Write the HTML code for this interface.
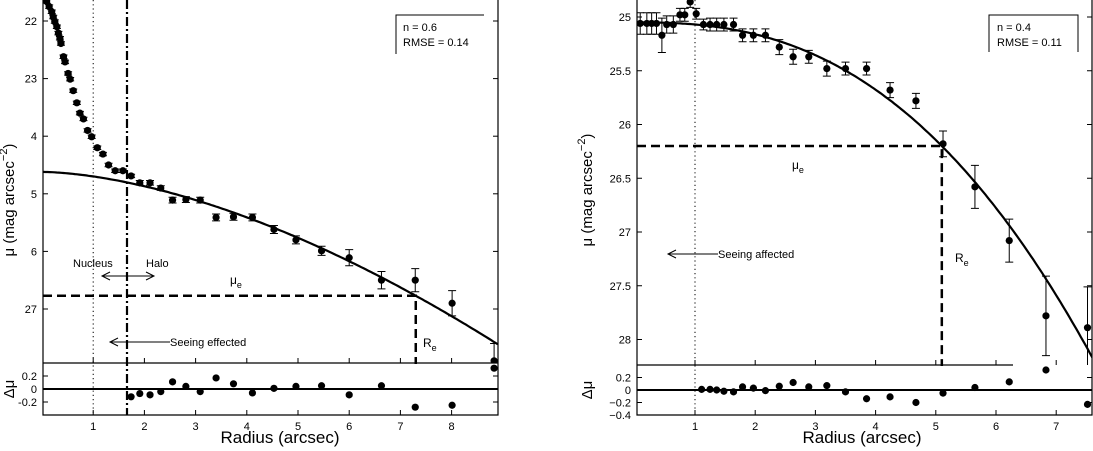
<!DOCTYPE html>
<html><head><meta charset="utf-8"><style>
html,body{margin:0;padding:0;background:#fff;}
svg{display:block;font-family:"Liberation Sans",sans-serif;}
</style></head><body>
<svg id="fig" width="1093" height="451" viewBox="0 0 1093 451"></svg>
<script>
// ---------- Left panel data ----------
const L_r=[0.09,0.14,0.19,0.22,0.25,0.29,0.32,0.35,0.37,0.42,0.45,0.51,0.55,0.61,0.68,0.74,0.81,0.89,0.97,1.08,1.19,1.30,1.43,1.58,1.74,1.91,2.11,2.32,2.55,2.81,3.09,3.40,3.74,4.11,4.53,4.96,5.46,6.00,6.63,7.29,8.01,8.83];
const L_mu=[21.66,21.75,21.84,21.93,22.01,22.10,22.21,22.30,22.39,22.62,22.71,22.91,23.01,23.21,23.42,23.60,23.70,23.90,24.01,24.20,24.31,24.50,24.60,24.60,24.69,24.81,24.81,24.90,25.11,25.10,25.11,25.41,25.40,25.41,25.62,25.80,25.99,26.11,26.50,26.50,26.90,27.90];
const L_err=[0.03,0.03,0.03,0.03,0.03,0.03,0.03,0.03,0.03,0.03,0.03,0.03,0.03,0.03,0.03,0.03,0.03,0.03,0.03,0.03,0.03,0.03,0.03,0.03,0.03,0.04,0.04,0.04,0.05,0.05,0.05,0.06,0.06,0.06,0.07,0.07,0.08,0.14,0.15,0.20,0.22,0.30];
const L_resR=[1.74,1.91,2.11,2.32,2.55,2.81,3.09,3.40,3.74,4.11,4.53,4.96,5.46,6.00,6.63,7.29,8.01,8.83];
const L_res=[-0.12,-0.07,-0.09,-0.04,0.11,0.04,-0.04,0.17,0.08,-0.06,0.01,0.04,0.05,-0.09,0.05,-0.28,-0.25,0.32];
const L_fit=[0.6,7.3,26.77,2.15]; // n, Re, mu_e, b
const L_xticks=[1,2,3,4,5,6,7,8];
const L_yticks=[22,23,24,25,26,27];
const L_ylabels=["22","23","4","5","6","27"];
const L_rticks=[0.2,0,-0.2];
const L_rlabels=["0.2","0","-0.2"];
// ---------- Right panel data ----------
const R_r=[0.45,0.09,0.20,0.28,0.36,0.53,0.64,0.75,0.83,0.92,1.02,1.14,1.25,1.36,1.48,1.64,1.79,1.97,2.17,2.40,2.63,2.89,3.19,3.50,3.85,4.24,4.67,5.12,5.65,6.22,6.83,7.52];
const R_mu=[25.17,25.06,25.06,25.06,25.06,25.07,25.07,24.98,24.98,24.86,24.97,25.07,25.07,25.07,25.07,25.07,25.17,25.17,25.17,25.28,25.37,25.37,25.48,25.48,25.48,25.68,25.78,26.18,26.58,27.08,27.78,27.89];
const R_err=[0.16,0.1,0.1,0.1,0.1,0.08,0.08,0.06,0.06,0.05,0.05,0.05,0.06,0.06,0.06,0.06,0.06,0.06,0.06,0.07,0.07,0.06,0.07,0.06,0.06,0.07,0.07,0.12,0.2,0.2,0.37,0.38];
const R_resR=[1.11,1.25,1.36,1.48,1.64,1.79,1.97,2.17,2.40,2.63,2.89,3.19,3.50,3.85,4.24,4.67,5.12,5.65,6.22,6.83,7.52];
const R_res=[0.01,0.01,0,-0.02,-0.03,0.05,0.03,-0.01,0.06,0.12,0.05,0.07,-0.03,-0.14,-0.11,-0.2,-0.05,0.04,0.13,0.32,-0.23];
const R_fit=[0.4,5.1,26.2,1.15];
const R_xticks=[1,2,3,4,5,6,7];
const R_yticks=[25,25.5,26,26.5,27,27.5,28];
const R_ylabels=["25","25.5","26","26.5","27","27.5","28"];
const R_rticks=[0.2,0,-0.2,-0.4];
const R_rlabels=["0.2","0","\u22120.2","\u22120.4"];

const NS="http://www.w3.org/2000/svg";
const svg=document.getElementById('fig');
function mk(tag,attrs,parent){const e=document.createElementNS(NS,tag);for(const k in attrs)e.setAttribute(k,attrs[k]);(parent||svg).appendChild(e);return e;}
function lin(d0,d1,r0,r1){return v=>r0+(v-d0)*(r1-r0)/(d1-d0);}

function panel(P){
  const g=mk('g',{});
  
  
  const X=lin(0,1,P.x0,P.x0+P.xs), Y=lin(P.m0,P.m0+1,P.y0,P.y0+P.ys), YR=lin(0,1,P.r0,P.r0-P.rs);
  const cid='clip'+P.name;
  const cp=mk('clipPath',{id:cid},g); mk('rect',{x:P.L,y:0,width:P.R-P.L,height:P.B},cp);
  // frame
  const fr=mk('path',{d:`M${P.L},0V${P.B2}H${P.R}V0M${P.L},${P.B}H${P.Bend}`,fill:'none',stroke:'#000','stroke-width':1.2},g);
   
  // x ticks
  P.xticks.forEach(t=>{const x=X(t);
    mk('line',{x1:x,x2:x,y1:P.B2,y2:P.B2-5,stroke:'#000'},g);
    mk('line',{x1:x,x2:x,y1:P.B,y2:P.B-5,stroke:'#000'},g);
    const tx=mk('text',{x:x,y:P.B2+15,'font-size':11,'text-anchor':'middle'},g);tx.textContent=String(t);
     });
  P.yticks.forEach((t,i)=>{const y=Y(t);
    mk('line',{x1:P.L,x2:P.L+5,y1:y,y2:y,stroke:'#000'},g);
    mk('line',{x1:P.R,x2:P.R-5,y1:y,y2:y,stroke:'#000'},g);
    const tx=mk('text',{x:P.L-6,y:y+4,'font-size':11,'text-anchor':'end'},g);tx.textContent=P.ylabels[i];
     });
  P.rticks.forEach((t,i)=>{const y=YR(t);
    mk('line',{x1:P.L,x2:P.L+5,y1:y,y2:y,stroke:'#000'},g);
    mk('line',{x1:P.R,x2:P.R-5,y1:y,y2:y,stroke:'#000'},g);
    const tx=mk('text',{x:P.L-6,y:y+4,'font-size':11,'text-anchor':'end'},g);tx.textContent=P.rlabels[i];
     });
  // reference lines
  const dot=mk('line',{x1:X(1),x2:X(1),y1:0,y2:P.B2,stroke:'#000','stroke-dasharray':'1.2,3'},g);
   
  const [n,Re,mue,b]=P.fit;
  const ye=Y(mue), xe=X(Re);
  const dh=mk('path',{d:`M${P.L},${ye}H${xe}V${P.B+1}`,fill:'none',stroke:'#000','stroke-width':2.5,'stroke-dasharray':'9,5'},g);
   
  // fit
  let d='';const lim=P.xmax;
  for(let i=0;i<=200;i++){const r=P.xmin+(lim-P.xmin)*i/200;const m=mue+b*(Math.pow(r/Re,1/n)-1);d+=(i?'L':'M')+X(r).toFixed(1)+','+Y(m).toFixed(1);}
  const fit=mk('path',{d:d,fill:'none',stroke:'#000','stroke-width':2.2,'clip-path':`url(#${cid})`},g);
   
  // data
  const dg=mk('g',{'clip-path':`url(#${cid})`},g);
   
  P.r.forEach((r,i)=>{const x=X(r),y=Y(P.mu[i]),e1=Y(P.mu[i]-P.err[i]),e2=Y(P.mu[i]+P.err[i]);
    mk('path',{d:`M${x},${e1}V${e2}M${x-4},${e1}H${x+4}M${x-4},${e2}H${x+4}`,stroke:'#000','stroke-width':1,fill:'none'},dg);
    const c=mk('circle',{cx:x,cy:y,r:3.6,fill:'#000'},dg);
     });
  // residuals
  const z=mk('line',{x1:P.L,x2:P.R,y1:YR(0),y2:YR(0),stroke:'#000','stroke-width':2},g);
   
  P.resR.forEach((r,i)=>{const c=mk('circle',{cx:X(r),cy:YR(P.res[i]),r:3.6,fill:'#000'},g);
     });
  // legend
  const lg=mk('g',{},g);  
  mk('path',{d:P.legPath,fill:'none',stroke:'#000'},lg);
  let t=mk('text',{x:P.legX,y:31,'font-size':11},lg);t.textContent=P.leg1;
  t=mk('text',{x:P.legX,y:46,'font-size':11},lg);t.textContent=P.leg2;
  // axis titles
  t=mk('text',{x:P.ylx,y:P.yly,'font-size':15,'text-anchor':'middle',transform:`rotate(-90 ${P.ylx} ${P.yly})`},g);
  t.innerHTML='μ (mag arcsec<tspan dy="-7" font-size="11">−2</tspan><tspan dy="7">)</tspan>';
   
  t=mk('text',{x:P.ylx,y:YR(0),'font-size':15,'text-anchor':'middle',transform:`rotate(-90 ${P.ylx} ${YR(0)})`},g);t.textContent='Δμ';
   
  t=mk('text',{x:P.xlx,y:443,'font-size':17,'text-anchor':'middle'},g);t.textContent='Radius (arcsec)';
   
  // mu_e and Re labels
  t=mk('text',{x:P.mux,y:P.muy,'font-size':12},g);t.innerHTML='μ<tspan dy="4" font-size="9">e</tspan>';
   
  t=mk('text',{x:P.rex,y:P.rey,'font-size':12},g);t.innerHTML='R<tspan dy="4" font-size="9">e</tspan>';
   
  // seeing text + arrow
  mk('path',{d:`M${P.sx0},${P.sy}H${P.sx1}M${P.sx0+8},${P.sy-4}L${P.sx0},${P.sy}L${P.sx0+8},${P.sy+4}`,fill:'none',stroke:'#000'},g);
  t=mk('text',{x:P.sx1,y:P.sy+4,'font-size':11},g);t.textContent=P.stext;
   
  return {X,Y,YR,g};
}

const Lp=panel({name:'left-panel',L:43,R:498,B:363,B2:415,Bend:498,x0:42,xs:51.2,m0:22,y0:21,ys:57.6,r0:389,rs:65,xmin:0.02,xmax:8.9,
 r:L_r,mu:L_mu,err:L_err,resR:L_resR,res:L_res,fit:L_fit,xticks:L_xticks,yticks:L_yticks,ylabels:L_ylabels,rticks:L_rticks,rlabels:L_rlabels,
 legPath:'M396,54V15H484',legX:403,leg1:'n = 0.6',leg2:'RMSE = 0.14',ylx:14,yly:200,xlx:280,mux:230,muy:284,rex:423,rey:347,
 sx0:110,sx1:170,sy:342,stext:'Seeing effected'});
// dash-dot line and nucleus/halo
const dd=mk('line',{x1:127,x2:127,y1:0,y2:415,stroke:'#000','stroke-width':2.2,'stroke-dasharray':'9,3,2,3'},Lp.g);
 
mk('path',{d:'M102,276H154M110,272L102,276L110,280M146,272L154,276L146,280',fill:'none',stroke:'#000'},Lp.g);
let tt=mk('text',{x:73,y:267,'font-size':11},Lp.g);tt.textContent='Nucleus';
 
tt=mk('text',{x:146,y:267,'font-size':11},Lp.g);tt.textContent='Halo';
 

panel({name:'right-panel',L:637,R:1092,B:365,B2:415,Bend:1013,x0:634.8,xs:60.2,m0:25,y0:17,ys:107.5,r0:390,rs:62.5,xmin:0.04,xmax:7.6,
 r:R_r,mu:R_mu,err:R_err,resR:R_resR,res:R_res,fit:R_fit,xticks:R_xticks,yticks:R_yticks,ylabels:R_ylabels,rticks:R_rticks,rlabels:R_rlabels,
 legPath:'M989,52V15H1078V52',legX:997,leg1:'n = 0.4',leg2:'RMSE = 0.11',ylx:592,yly:190,xlx:862,mux:792,muy:169,rex:955,rey:262,
 sx0:668,sx1:718,sy:254,stext:'Seeing affected'});
</script>
</body></html>
